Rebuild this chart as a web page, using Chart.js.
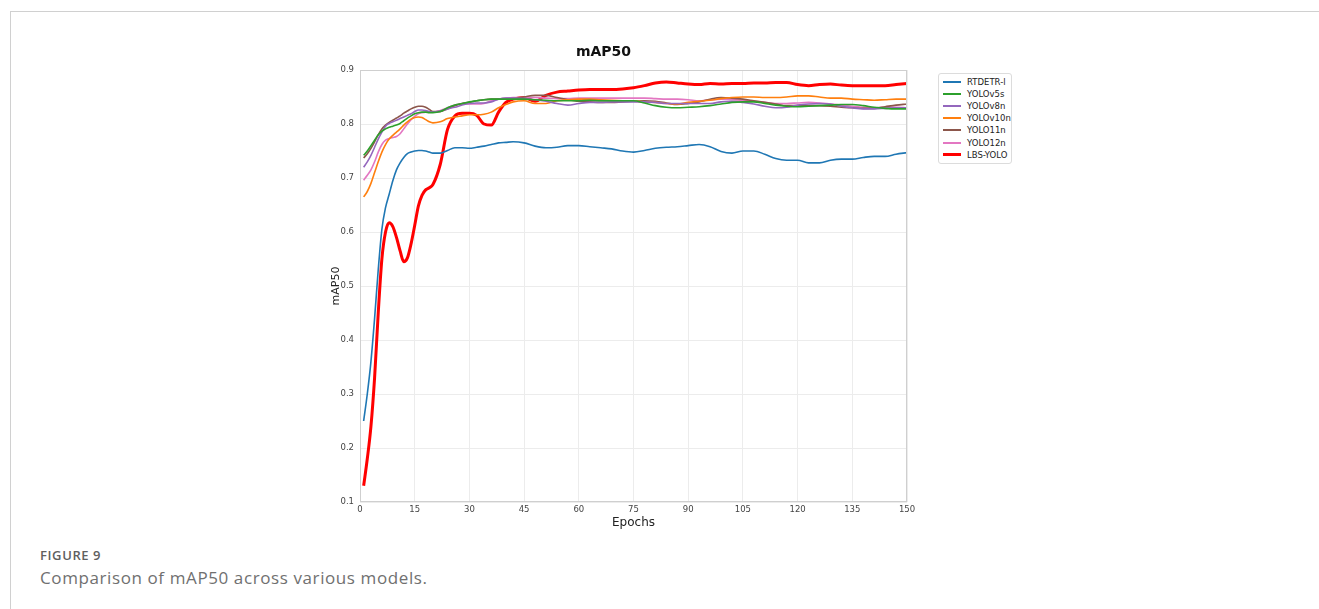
<!DOCTYPE html>
<html>
<head>
<meta charset="utf-8">
<script src="https://cdn.jsdelivr.net/npm/chart.js@4.4.1/dist/chart.umd.min.js"></script>
<style>
  html, body { margin: 0; padding: 0; background: #fff; }
  body { width: 1319px; height: 609px; position: relative; overflow: hidden; }
  #frame { position: absolute; left: 10px; top: 11px; right: 0; bottom: -5px; border-top: 1px solid #d0d0d0; border-left: 1px solid #d0d0d0; }
  #chartWrap { position: absolute; left: 300px; top: 30px; width: 620px; height: 505px; }
  #legend { position: absolute; left: 938px; top: 73px; width: 72px; padding: 2px 0 2px 0; border: 1px solid #dcdcdc; border-radius: 3px; background: #fff; font-family: "DejaVu Sans", sans-serif; font-size: 8.5px; color: #222; }
  .row { height: 12.1px; display: flex; align-items: center; }
  .sw { width: 18px; margin-left: 4px; margin-right: 6px; }
  #fig { position: absolute; left: 40px; top: 546px; font-family: "Open Sans", sans-serif; font-size: 13px; font-weight: 600; color: #606060; letter-spacing: 0.6px; }
  #cap { position: absolute; left: 40px; top: 566px; font-family: "Open Sans", sans-serif; font-size: 17px; color: #707070; letter-spacing: 0.6px; }
</style>
</head>
<body>
<div id="frame"></div>
<div id="chartWrap"><canvas id="c" width="620" height="505"></canvas></div>
<div id="legend"></div>
<div id="fig">FIGURE 9</div>
<div id="cap">Comparison of mAP50 across various models.</div>
<script>
const epochs = [1,2,3,4,5,6,7,8,9,10,11,12,13,14,15,16,17,18,19,20,22,24,26,28,30,32,34,36,38,40,42,45,48,51,54,57,60,63,66,69,72,75,78,81,84,87,90,93,96,99,102,105,108,111,114,117,120,123,126,129,132,135,138,141,144,147,150];

const rtdetr = [0.25,0.30,0.36,0.44,0.53,0.605,0.645,0.67,0.695,0.715,0.728,0.738,0.745,0.748,0.750,0.751,0.751,0.750,0.748,0.746,0.746,0.751,0.756,0.756,0.755,0.757,0.759,0.762,0.765,0.766,0.767,0.765,0.759,0.756,0.757,0.760,0.760,0.758,0.756,0.754,0.750,0.748,0.751,0.755,0.757,0.758,0.760,0.762,0.758,0.749,0.746,0.750,0.750,0.744,0.736,0.733,0.733,0.728,0.728,0.733,0.735,0.735,0.738,0.740,0.740,0.744,0.747];

const yolov5s = [0.742,0.75,0.76,0.77,0.78,0.787,0.791,0.794,0.796,0.798,0.801,0.806,0.811,0.815,0.819,0.821,0.822,0.822,0.821,0.821,0.823,0.83,0.835,0.838,0.841,0.843,0.845,0.846,0.846,0.846,0.846,0.846,0.845,0.844,0.843,0.843,0.843,0.844,0.843,0.843,0.843,0.843,0.839,0.834,0.831,0.830,0.831,0.832,0.834,0.837,0.840,0.841,0.841,0.838,0.835,0.833,0.832,0.833,0.834,0.835,0.836,0.836,0.834,0.831,0.829,0.828,0.828];

const yolov8n = [0.72,0.73,0.742,0.757,0.772,0.785,0.796,0.801,0.804,0.807,0.81,0.813,0.816,0.819,0.823,0.826,0.826,0.825,0.823,0.822,0.824,0.828,0.831,0.835,0.838,0.839,0.839,0.841,0.846,0.848,0.848,0.847,0.845,0.842,0.838,0.835,0.838,0.840,0.840,0.841,0.841,0.841,0.841,0.840,0.838,0.838,0.838,0.838,0.838,0.841,0.842,0.840,0.837,0.833,0.830,0.831,0.835,0.837,0.838,0.837,0.833,0.830,0.828,0.828,0.829,0.830,0.830];

const yolov10n = [0.665,0.675,0.69,0.71,0.73,0.748,0.762,0.772,0.779,0.785,0.791,0.798,0.804,0.809,0.812,0.813,0.812,0.808,0.804,0.802,0.804,0.810,0.813,0.815,0.817,0.817,0.818,0.822,0.83,0.836,0.841,0.843,0.838,0.838,0.843,0.845,0.846,0.846,0.845,0.844,0.843,0.842,0.841,0.840,0.838,0.837,0.840,0.842,0.844,0.847,0.849,0.850,0.850,0.849,0.849,0.850,0.852,0.852,0.850,0.848,0.848,0.846,0.845,0.844,0.845,0.846,0.846];

const yolo11n = [0.737,0.745,0.755,0.767,0.78,0.791,0.798,0.803,0.807,0.811,0.815,0.82,0.824,0.828,0.831,0.833,0.833,0.831,0.827,0.823,0.823,0.828,0.834,0.838,0.840,0.843,0.845,0.846,0.846,0.846,0.847,0.850,0.853,0.853,0.849,0.845,0.842,0.841,0.840,0.840,0.841,0.842,0.843,0.842,0.839,0.836,0.838,0.841,0.846,0.849,0.848,0.846,0.843,0.840,0.837,0.834,0.834,0.834,0.834,0.833,0.831,0.830,0.829,0.829,0.832,0.835,0.837];

const yolo12n = [0.696,0.705,0.715,0.73,0.748,0.762,0.77,0.773,0.775,0.777,0.782,0.791,0.80,0.808,0.814,0.819,0.821,0.822,0.822,0.822,0.825,0.83,0.835,0.837,0.837,0.837,0.838,0.843,0.846,0.848,0.849,0.849,0.849,0.848,0.847,0.847,0.848,0.848,0.848,0.848,0.848,0.848,0.848,0.847,0.846,0.846,0.845,0.843,0.845,0.846,0.845,0.844,0.842,0.840,0.838,0.838,0.839,0.840,0.839,0.837,0.835,0.833,0.831,0.830,0.831,0.831,0.830];

const lbsyolo = [0.13,0.18,0.24,0.33,0.45,0.55,0.60,0.617,0.61,0.59,0.565,0.545,0.552,0.578,0.612,0.648,0.668,0.678,0.682,0.688,0.725,0.79,0.815,0.82,0.82,0.816,0.80,0.798,0.822,0.84,0.846,0.849,0.842,0.853,0.859,0.861,0.863,0.864,0.864,0.864,0.865,0.867,0.871,0.876,0.878,0.876,0.874,0.873,0.875,0.874,0.875,0.875,0.876,0.876,0.877,0.877,0.873,0.871,0.873,0.874,0.872,0.871,0.871,0.871,0.871,0.873,0.875];

const seriesNames = ["RTDETR-l","YOLOv5s","YOLOv8n","YOLOv10n","YOLO11n","YOLO12n","LBS-YOLO"];
const seriesValues = [rtdetr, yolov5s, yolov8n, yolov10n, yolo11n, yolo12n, lbsyolo];
const seriesColors = ["#1f77b4","#2ca02c","#9467bd","#ff7f0e","#8c564b","#e377c2","#ff0000"];
const seriesWidths = [1.6,1.6,1.6,1.6,1.6,1.6,3];

const xTicks = [0,15,30,45,60,75,90,105,120,135,150];
const yTicks = [0.1,0.2,0.3,0.4,0.5,0.6,0.7,0.8,0.9];

const datasets = seriesNames.map((name, i) => ({
  label: name,
  data: epochs.map((e, j) => ({x: e, y: seriesValues[i][j]})),
  borderColor: seriesColors[i],
  backgroundColor: seriesColors[i],
  borderWidth: seriesWidths[i],
  pointRadius: 0,
  tension: 0.4,
  cubicInterpolationMode: 'monotone',
  fill: false
}));

const frameBox = {
  id: 'frameBox',
  afterDraw(chart) {
    const {ctx, chartArea: a} = chart;
    ctx.save();
    ctx.strokeStyle = '#cfcfcf';
    ctx.lineWidth = 1;
    ctx.strokeRect(a.left + 0.5, a.top + 0.5, a.right - a.left - 1, a.bottom - a.top - 1);
    ctx.restore();
  }
};

const FONT = '"DejaVu Sans", sans-serif';
new Chart(document.getElementById('c'), {
  type: 'line',
  data: { datasets },
  plugins: [frameBox],
  options: {
    responsive: false,
    animation: false,
    layout: { padding: { right: 13, left: 0, bottom: 0, top: 0 } },
    plugins: {
      legend: { display: false },
      tooltip: { enabled: false },
      title: {
        display: true, text: 'mAP50', color: '#111',
        font: { family: FONT, size: 14, weight: 'bold', lineHeight: 1.2 },
        padding: { top: 13.5, bottom: 9.7 }
      }
    },
    scales: {
      x: {
        type: 'linear', min: 0, max: 150,
        afterBuildTicks: s => { s.ticks = xTicks.map(v => ({value: v})); },
        afterFit: s => { s.height = 33; },
        ticks: { color: '#444', font: { family: FONT, size: 8.5 }, padding: 3, maxRotation: 0 },
        grid: { color: '#ececec', lineWidth: 1, drawTicks: false },
        border: { display: false },
        title: { display: true, text: 'Epochs', color: '#222', font: { family: FONT, size: 12 }, padding: { top: 0, bottom: 5 } }
      },
      y: {
        type: 'linear', min: 0.1, max: 0.9,
        afterBuildTicks: s => { s.ticks = yTicks.map(v => ({value: v})); },
        afterFit: s => { s.width = 60; },
        ticks: { color: '#444', font: { family: FONT, size: 8.5 }, padding: 6, callback: v => v.toFixed(1) },
        grid: { color: '#ececec', lineWidth: 1, drawTicks: false },
        border: { display: false },
        title: { display: true, text: 'mAP50', color: '#222', font: { family: FONT, size: 11 }, padding: { top: 30, bottom: 0 } }
      }
    }
  }
});

const lg = document.getElementById('legend');
seriesNames.forEach((n, i) => {
  const r = document.createElement('div');
  r.className = 'row';
  const sw = document.createElement('div');
  sw.className = 'sw';
  sw.style.height = (i === 6 ? 3 : 2) + 'px';
  sw.style.background = seriesColors[i];
  const t = document.createElement('span');
  t.textContent = n;
  r.appendChild(sw); r.appendChild(t);
  lg.appendChild(r);
});
</script>
</body>
</html>
